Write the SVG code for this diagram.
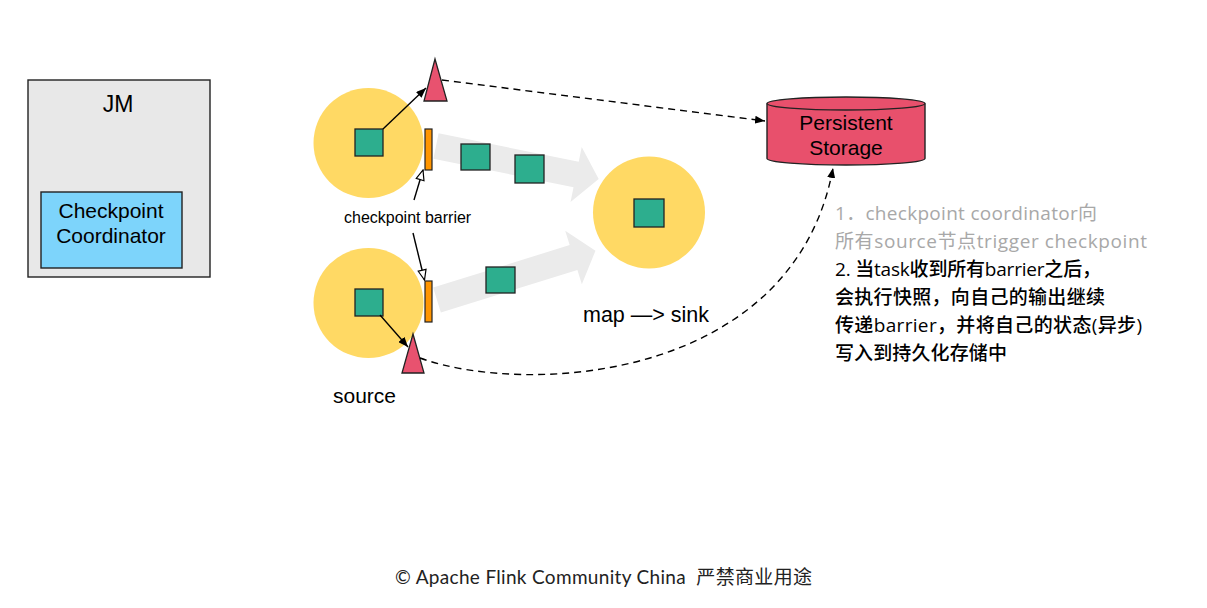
<svg xmlns="http://www.w3.org/2000/svg" width="1207" height="608" viewBox="0 0 1207 608">
  <style>
    .lbl { font-family: "Liberation Sans", Arial, sans-serif; fill: #000; }
    .circle { fill: #FFD964; }
    .sq { fill: #2DAE8E; stroke: #222; stroke-width: 1.3; }
    .tri { fill: #E8526F; stroke: #222; stroke-width: 1.3; }
    .bar { fill: #FF9500; stroke: #222; stroke-width: 1.2; }
    .flow { fill: #EBEBEB; }
    .solid { fill: none; stroke: #000; stroke-width: 1.4; }
    .dash { fill: none; stroke: #000; stroke-width: 1.4; stroke-dasharray: 7 5; }
    .note { font-family: "Open Sans", "Noto Sans CJK SC", sans-serif; font-size: 19px; }
    .gray { fill: #A8A8A8; }
    .dark { fill: #000; font-weight: 500; }
  </style>
  <defs>
    <marker id="ah" viewBox="0 0 10 8" refX="10" refY="4" markerWidth="10" markerHeight="8" markerUnits="userSpaceOnUse" orient="auto">
      <path d="M0,0 L10,4 L0,8 Z" fill="#000"/>
    </marker>
    <marker id="ahOpen" viewBox="0 0 12 10" refX="11" refY="5" markerWidth="12" markerHeight="10" markerUnits="userSpaceOnUse" orient="auto">
      <path d="M1,1 L11,5 L1,9 Z" fill="#fff" stroke="#000" stroke-width="1.2"/>
    </marker>
  </defs>
  <rect width="1207" height="608" fill="#fff"/>

  <g id="flows">
    <path class="flow" transform="translate(436,146) rotate(11.5)" d="M0,-13 H143 V-28 L166,0 L143,28 V13 H0 Z"/>
    <path class="flow" transform="translate(437,300) rotate(-17.3)" d="M0,-13 H143 V-28 L166,0 L143,28 V13 H0 Z"/>
  </g>

  <g id="jm">
    <rect x="28" y="80" width="182" height="197" fill="#E8E8E8" stroke="#222" stroke-width="1.4"/>
    <text class="lbl" x="118" y="112" font-size="23" text-anchor="middle">JM</text>
  </g>
  <g id="coordinator">
    <rect x="41" y="192" width="141" height="76" fill="#7DD4FB" stroke="#222" stroke-width="1.4"/>
    <text class="lbl" x="111" y="218" font-size="21" text-anchor="middle">Checkpoint</text>
    <text class="lbl" x="111" y="243" font-size="21" text-anchor="middle">Coordinator</text>
  </g>

  <g id="source-top">
    <circle class="circle" cx="368.5" cy="143" r="55"/>
    <rect class="sq" x="355" y="129" width="28" height="27"/>
  </g>
  <g id="source-bottom">
    <circle class="circle" cx="368.5" cy="303" r="55"/>
    <rect class="sq" x="355" y="289" width="28" height="27"/>
  </g>
  <g id="map-sink">
    <circle class="circle" cx="649" cy="212.5" r="56"/>
    <rect class="sq" x="634" y="199" width="30" height="28"/>
  </g>

  <g id="records">
    <rect class="sq" x="461" y="144" width="29" height="26"/>
    <rect class="sq" x="515" y="155" width="29" height="28"/>
    <rect class="sq" x="486" y="267" width="29" height="26"/>
  </g>

  <g id="barrier-top"><rect class="bar" x="425" y="129" width="7" height="41"/></g>
  <g id="barrier-bottom"><rect class="bar" x="425" y="281" width="7" height="41"/></g>

  <g id="snapshot-top"><polygon class="tri" points="435,59 424,101 447,101"/></g>
  <g id="snapshot-bottom"><polygon class="tri" points="413,334 402,373 424,373"/></g>

  <g id="storage">
    <path d="M767,103.5 V158.5 A79,6.5 0 0 0 925,158.5 V103.5" fill="#E8506C" stroke="#222" stroke-width="1.4"/>
    <ellipse cx="846" cy="103.5" rx="79" ry="6.5" fill="#E8506C" stroke="#222" stroke-width="1.4"/>
    <text class="lbl" x="846" y="130" font-size="21" text-anchor="middle">Persistent</text>
    <text class="lbl" x="846" y="155" font-size="21" text-anchor="middle">Storage</text>
  </g>

  <g id="connectors">
    <line class="solid" x1="383" y1="129" x2="426" y2="88" marker-end="url(#ah)"/>
    <line class="solid" x1="380" y1="315" x2="408" y2="347" marker-end="url(#ah)"/>
    <line class="solid" x1="414" y1="200" x2="423" y2="170" marker-end="url(#ahOpen)"/>
    <line class="solid" x1="413" y1="233" x2="424.5" y2="280" marker-end="url(#ahOpen)"/>
    <line class="dash" x1="442" y1="80" x2="765" y2="121" marker-end="url(#ah)"/>
    <path class="dash" d="M420,358 C529,397 794,380 833,168" marker-end="url(#ah)"/>
  </g>

  <g id="labels">
    <text class="lbl" x="344" y="223" font-size="16">checkpoint barrier</text>
    <text class="lbl" x="333" y="403" font-size="21">source</text>
    <text class="lbl" x="583" y="322" font-size="21.5">map —&gt; sink</text>
  </g>

  <g id="notes" class="note">
    <text class="gray" x="835" y="220" textLength="262" lengthAdjust="spacing">1．checkpoint coordinator向</text>
    <text class="gray" x="835" y="248" textLength="312" lengthAdjust="spacing">所有source节点trigger checkpoint</text>
    <text class="dark" x="835" y="276" textLength="266" lengthAdjust="spacing">2. 当task收到所有barrier之后，</text>
    <text class="dark" x="835" y="304" textLength="270" lengthAdjust="spacing">会执行快照，向自己的输出继续</text>
    <text class="dark" x="835" y="332" textLength="307" lengthAdjust="spacing">传递barrier，并将自己的状态(异步)</text>
    <text class="dark" x="835" y="360" textLength="172" lengthAdjust="spacing">写入到持久化存储中</text>
  </g>

  <text x="395" y="584" font-family="Lato, 'Noto Sans CJK SC', sans-serif" font-size="19" fill="#222" style="white-space: pre" textLength="417" lengthAdjust="spacing">© Apache Flink Community China  严禁商业用途</text>
</svg>
